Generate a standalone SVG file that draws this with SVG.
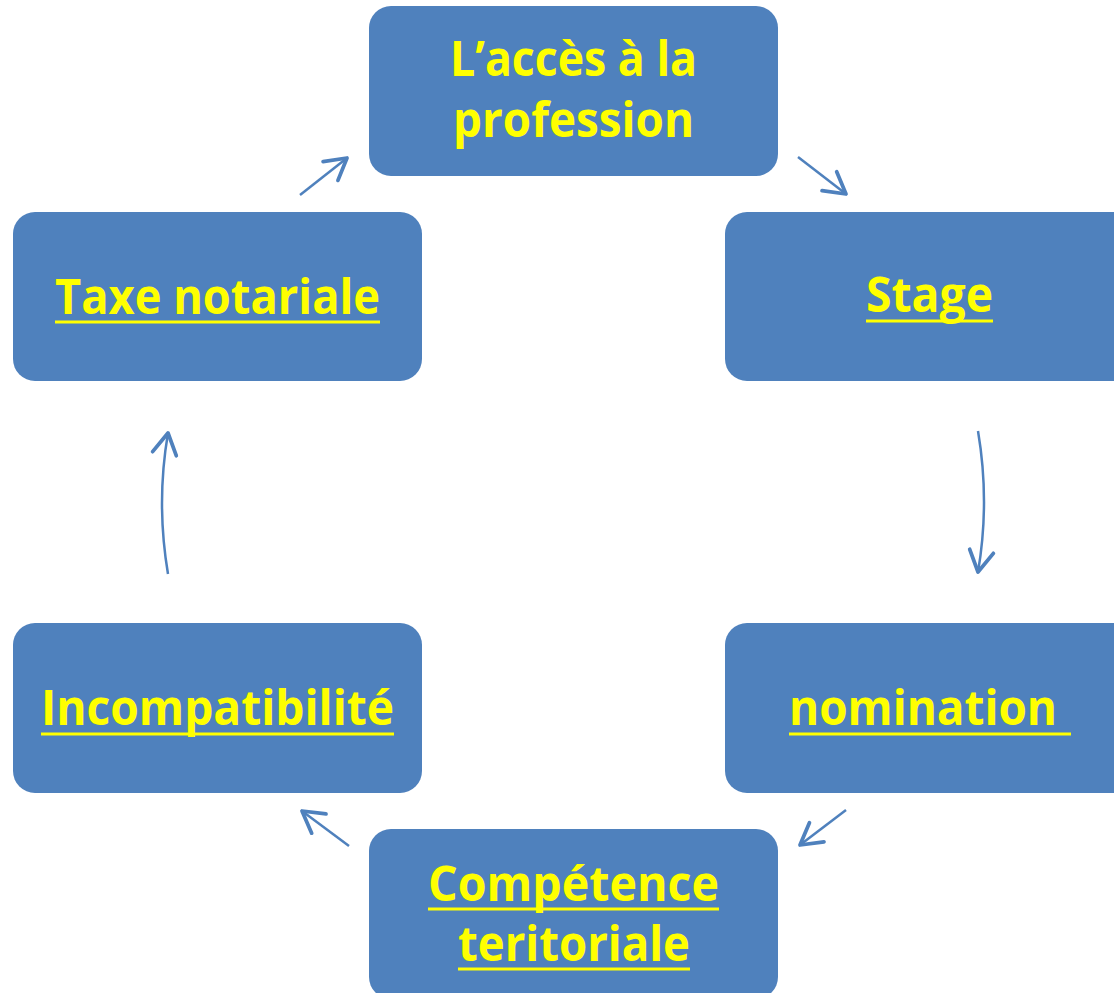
<svg xmlns="http://www.w3.org/2000/svg" width="1114" height="993" viewBox="0 0 1114 993">
<defs>
<style>
.box{fill:#4F81BD;}
.t{font-family:"Open Sans","Liberation Sans",sans-serif;font-weight:bold;font-size:48px;fill:#FFFF00;text-anchor:start;}
.ul{stroke:#FFFF00;stroke-width:3;}
.c{fill:none;stroke:#4F81BD;stroke-width:2.5;}
</style>
<marker id="ah" markerUnits="userSpaceOnUse" markerWidth="30" markerHeight="30" viewBox="-16 -10 20 20" refX="0" refY="0" orient="auto">
<path d="M-14,-8 L0,0 L-14,8" fill="none" stroke="#4F81BD" stroke-width="2.5" stroke-linecap="round" stroke-linejoin="round"/>
</marker>
</defs>
<rect width="1114" height="993" fill="#FFFFFF"/>
<g id="node-acces">
<rect class="box" x="369" y="6" width="409" height="170" rx="22"/>
<text class="t" x="450" y="76" textLength="247" lengthAdjust="spacingAndGlyphs">L’accès à la</text>
<text class="t" x="453" y="137" textLength="241" lengthAdjust="spacingAndGlyphs">profession</text>
</g>
<g id="node-stage">
<rect class="box" x="725" y="212" width="409" height="169" rx="22"/>
<text class="t" x="866" y="312" textLength="127" lengthAdjust="spacingAndGlyphs">Stage</text>
<line class="ul" x1="866" y1="321" x2="993" y2="321"/>
</g>
<g id="node-nomination">
<rect class="box" x="725" y="623" width="409" height="170" rx="22"/>
<text class="t" x="789" y="725" textLength="268" lengthAdjust="spacingAndGlyphs">nomination</text>
<line class="ul" x1="789" y1="734" x2="1071" y2="734"/>
</g>
<g id="node-competence">
<rect class="box" x="369" y="829" width="409" height="170" rx="22"/>
<text class="t" x="428" y="901" textLength="291" lengthAdjust="spacingAndGlyphs">Compétence</text>
<line class="ul" x1="428" y1="909" x2="719" y2="909"/>
<text class="t" x="458" y="961" textLength="232" lengthAdjust="spacingAndGlyphs">teritoriale</text>
<line class="ul" x1="458" y1="969" x2="690" y2="969"/>
</g>
<g id="node-incompatibilite">
<rect class="box" x="13" y="623" width="409" height="170" rx="22"/>
<text class="t" x="41" y="725" textLength="353" lengthAdjust="spacingAndGlyphs">Incompatibilité</text>
<line class="ul" x1="41" y1="734" x2="394" y2="734"/>
</g>
<g id="node-taxe">
<rect class="box" x="13" y="212" width="409" height="169" rx="22"/>
<text class="t" x="55" y="314" textLength="325" lengthAdjust="spacingAndGlyphs">Taxe notariale</text>
<line class="ul" x1="55" y1="322" x2="380" y2="322"/>
</g>
<g id="connectors">
<path class="c" d="M798,157 L846,194" marker-end="url(#ah)"/>
<path class="c" d="M978,431 Q990,502 978,572" marker-end="url(#ah)"/>
<path class="c" d="M846,810 L800,845" marker-end="url(#ah)"/>
<path class="c" d="M349,846 L302,811" marker-end="url(#ah)"/>
<path class="c" d="M168,574 Q156,503 168,433" marker-end="url(#ah)"/>
<path class="c" d="M300,195 L347,158" marker-end="url(#ah)"/>
</g>
</svg>
